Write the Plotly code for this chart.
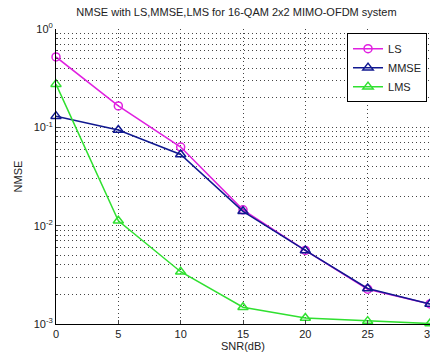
import plotly.graph_objects as go

snr = [0, 5, 10, 15, 20, 25, 30]
ls_vals = [0.52, 0.165, 0.063, 0.0145, 0.0056, 0.00226, 0.0016]
mmse_vals = [0.13, 0.094, 0.053, 0.014, 0.0056, 0.0023, 0.0016]
lms_vals = [0.275, 0.0112, 0.0034, 0.00148, 0.00115, 0.00107, 0.00101]

x_ticks = [0, 5, 10, 15, 20, 25, 30]
y_ticks = [1e-3, 1e-2, 1e-1, 1]
y_ticktext = ["10<sup>-3</sup>", "10<sup>-2</sup>", "10<sup>-1</sup>", "10<sup>0</sup>"]
minor_vals = [m * 10 ** e for e in (-3, -2, -1) for m in range(2, 10)]

grid_col = "#444"
grid_dash = "1px,3px"

fig = go.Figure()
fig.add_trace(go.Scatter(x=snr, y=ls_vals, name="LS", mode="lines+markers",
                         line=dict(color="#e020e0", width=1.5),
                         marker=dict(symbol="circle-open", size=8, color="#e020e0", line=dict(width=1.5)),
                         cliponaxis=False))
fig.add_trace(go.Scatter(x=snr, y=mmse_vals, name="MMSE", mode="lines+markers",
                         line=dict(color="#101890", width=1.5),
                         marker=dict(symbol="triangle-up-open", size=9, color="#101890", line=dict(width=1.5)),
                         cliponaxis=False))
fig.add_trace(go.Scatter(x=snr, y=lms_vals, name="LMS", mode="lines+markers",
                         line=dict(color="#30e030", width=1.5),
                         marker=dict(symbol="triangle-up-open", size=9, color="#30e030", line=dict(width=1.5)),
                         cliponaxis=False))

# the reference shows the last x tick label ("30") cut off at the right edge
fig.add_annotation(x=x_ticks[-1], y=0, xref="x", yref="paper", yanchor="top", xanchor="center",
                   text=str(x_ticks[-1]), showarrow=False, yshift=-2, font=dict(size=11, color="#222"))

fig.update_layout(
    width=430, height=354,
    margin=dict(l=56, r=0, t=29, b=30),
    paper_bgcolor="white", plot_bgcolor="white",
    font=dict(family="Arial", size=11, color="#222"),
    title=dict(text="NMSE with LS,MMSE,LMS for 16-QAM 2x2 MIMO-OFDM system",
               x=0.55, xanchor="center", y=0.965, yanchor="middle",
               font=dict(size=11, color="#222")),
    legend=dict(x=0.992, y=0.986, xanchor="right", yanchor="top",
                bgcolor="white", bordercolor="black", borderwidth=1,
                font=dict(size=11, color="#222"), itemwidth=30,
                tracegroupgap=0),
    showlegend=True,
)
fig.update_xaxes(range=[0, 30], tickvals=x_ticks[:-1], ticks="inside", ticklen=4,
                 showline=True, linecolor="black", linewidth=1,
                 showgrid=True, gridcolor=grid_col, griddash=grid_dash, gridwidth=1,
                 zeroline=False, title=dict(text="SNR(dB)", standoff=2, font=dict(size=11)),
                 tickfont=dict(size=11))
fig.update_yaxes(type="log", range=[-3, 0], tickvals=y_ticks, ticktext=y_ticktext,
                 ticks="inside", ticklen=4,
                 showline=True, linecolor="black", linewidth=1,
                 showgrid=True, gridcolor=grid_col, griddash=grid_dash, gridwidth=1,
                 minor=dict(tickvals=minor_vals, showgrid=True, gridcolor=grid_col,
                            griddash=grid_dash, gridwidth=1, ticks="inside", ticklen=2),
                 zeroline=False, title=dict(text="NMSE", standoff=8, font=dict(size=11)),
                 tickfont=dict(size=11))

fig.write_html("out.html")
